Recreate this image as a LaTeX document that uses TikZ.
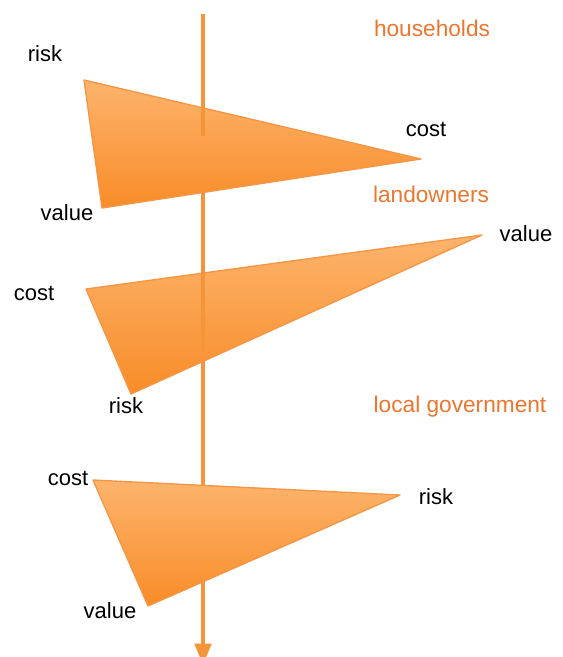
\documentclass[tikz,border=0pt]{standalone}
\usepackage{fontspec}
\setmainfont{Liberation Sans}
\usetikzlibrary{arrows.meta}

\definecolor{axiscolor}{RGB}{246,148,58}
\definecolor{groupcolor}{RGB}{236,118,46}
\definecolor{wedgetop}{RGB}{253,180,108}
\definecolor{wedgebottom}{RGB}{248,140,40}
\definecolor{wedgeedge}{RGB}{245,150,70}

\begin{document}
\begin{tikzpicture}[x=0.75pt,y=-0.75pt,
    label node/.style={font=\fontsize{16.5}{19}\selectfont,anchor=base,inner sep=0pt},
    group node/.style={label node,font=\fontsize{17}{20}\selectfont,text=groupcolor},
    wedge/.style={draw=wedgeedge,line width=1pt,line join=round,top color=wedgetop,bottom color=wedgebottom},
    axis piece/.style={draw=axiscolor,line width=3.6pt},
    axis/.style={axis piece,-{Triangle[width=12pt,length=16pt]}}]
            \useasboundingbox (0,0) rectangle (563,657);

            % the stakeholder axis, behind the triangles
            \coordinate (top) at (203,14);
            \coordinate (bottom) at (203,665);
            \draw[axis] (top) -- (bottom);

            % households
            \coordinate (h risk) at (84,80);
            \coordinate (h cost) at (421,159);
            \coordinate (h value) at (102,208);
            \path[wedge] (h risk) -- (h cost) -- (h value) -- cycle;

            % landowners
            \coordinate (l cost) at (86,289);
            \coordinate (l value) at (482,235);
            \coordinate (l risk) at (131,394);
            \path[wedge] (l cost) -- (l value) -- (l risk) -- cycle;

            % local government
            \coordinate (g cost) at (93,480);
            \coordinate (g risk) at (400,495);
            \coordinate (g value) at (148,606);
            \path[wedge] (g cost) -- (g risk) -- (g value) -- cycle;

            % the axis shows on top in the upper part of the first two
            \coordinate (h cut) at (203,136);
            \coordinate (l in) at (203,270);
            \coordinate (l cut) at (203,352);
            \draw[axis piece] (top) -- (h cut);
            \draw[axis piece] (l in) -- (l cut);

            \node[label node] (h risk label) at (45,61) {risk};
            \node[label node] (h cost label) at (426,136) {cost};
            \node[label node] (h value label) at (67,220) {value};
            \node[label node] (l cost label) at (34,300) {cost};
            \node[label node] (l value label) at (526,241) {value};
            \node[label node] (l risk label) at (126,413) {risk};
            \node[label node] (g cost label) at (68,485) {cost};
            \node[label node] (g risk label) at (436,504) {risk};
            \node[label node] (g value label) at (110,618) {value};

            \node[group node] (households) at (432,36) {households};
            \node[group node] (landowners) at (431,202) {landowners};
            \node[group node] (local government) at (460,412) {local government};
\end{tikzpicture}
\end{document}
